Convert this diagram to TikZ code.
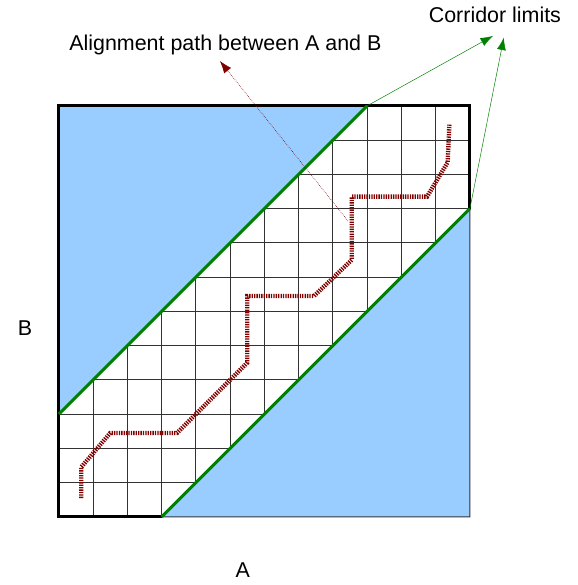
\documentclass[tikz,border=0pt]{standalone}
\usepackage{fontspec}
\setmainfont{Liberation Sans}
\usetikzlibrary{positioning,arrows.meta}
\definecolor{corridorblue}{RGB}{153,204,255}
\definecolor{limitgreen}{RGB}{0,128,0}
\definecolor{pathred}{RGB}{128,0,0}
\tikzset{
  gridline/.style={line width=0.7pt, black!80},
  outside/.style={fill=corridorblue},
  frameline/.style={line width=2.6pt, black},
  limitline/.style={line width=2.4pt, limitgreen},
  limitarrow/.style={-{Latex[length=3.6mm, width=2.6mm]}, thin, limitgreen},
  alignpath/.style={line width=3.6pt, pathred, dash pattern=on 1.1pt off 0.9pt},
  patharrow/.style={-{Latex[length=3.6mm, width=2.6mm]}, pathred, line width=0.5pt, densely dotted},
  labeltext/.style={font=\fontsize{17.8}{21}\selectfont, inner sep=0pt}
}

\begin{document}
\begin{tikzpicture}[>=Latex]
  \path[use as bounding box] (-1.72,-1.99) rectangle (15.15,15.09);
  % matrix corners and corridor ends
  \coordinate (o) at (0,0);
  \coordinate (e) at (12,12);
  \coordinate (up1) at (0,3);
  \coordinate (up2) at (9,12);
  \coordinate (lo1) at (3,0);
  \coordinate (lo2) at (12,9);
  \draw[gridline] (o) grid (e);
  \fill[outside] (up1) -- (up2) -- (0,12) -- cycle;
  \draw[frameline] (lo1) -- (o) -- (0,12) -- (e) -- (lo2);
  \filldraw[outside, draw=black!80, line width=0.7pt] (lo1) -- (12,0) -- (lo2) -- cycle;
  \draw[limitline] (up1) -- (up2);
  \draw[limitline] (lo1) -- (lo2);
  % alignment path
  \draw[alignpath] (0.65,0.55) -- (0.65,1.45) -- (1.5,2.45) -- (3.45,2.45) -- (5.5,4.5)
    -- (5.5,6.45) -- (7.45,6.45) -- (8.55,7.5) -- (8.55,9.35) -- (10.75,9.35)
    -- (11.35,10.35) -- (11.4,11.45);
  % labels
  \node[labeltext] (alignlbl) at (4.86,13.78) {Alignment path between A and B};
  \node[labeltext] (corrlbl) at (12.73,14.66) {Corridor limits};
  \node[labeltext] (blbl) at (-0.99,5.52) {B};
  \node[labeltext] (albl) at (5.37,-1.55) {A};
  \coordinate (pathhint) at (8.44,8.64);
  \coordinate (pathtip) at (4.70,13.31);
  \coordinate (corrtip1) at (12.67,14.04);
  \coordinate (corrtip2) at (12.99,13.99);
  \draw[patharrow] (pathhint) -- (pathtip);
  \draw[limitarrow] (up2) -- (corrtip1);
  \draw[limitarrow] (lo2) -- (corrtip2);
\end{tikzpicture}
\end{document}
